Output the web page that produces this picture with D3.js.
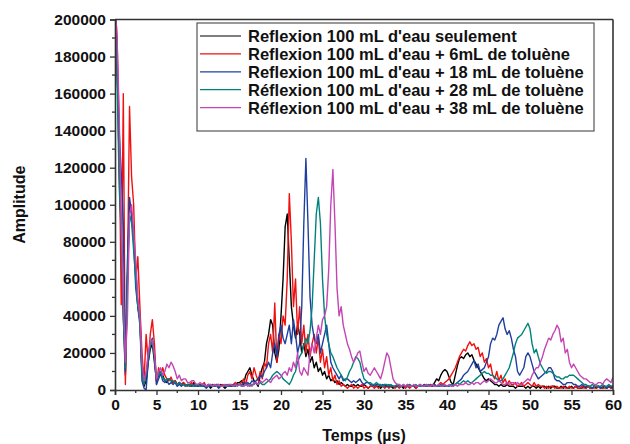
<!DOCTYPE html>
<html><head><meta charset="utf-8">
<script src="https://cdn.jsdelivr.net/npm/d3@7"></script>
<style>body{margin:0;background:#fff}svg{display:block}</style>
</head><body>
<svg id="c" width="630" height="444"></svg>
<script>
// Amplitudes in thousands, sampled every 0.25 µs from 0 to 60 µs
const seriesNames = [
  "Reflexion 100 mL d'eau seulement",
  "Reflexion 100 mL d'eau + 6mL de toluène",
  "Reflexion 100 mL d'eau + 18 mL de toluène",
  "Réflexion 100 mL d'eau + 28 mL de toluène",
  "Réflexion 100 mL d'eau + 38 mL de toluène"
];
const seriesColors = ["#000000", "#f01010", "#1f3f9f", "#00827c", "#c445b4"];
const timeStep = 0.25;
const black = [
210,180,120,85, 40,8,60,100, 95,80,65,45, 38,10,2,5, 15,22,25,15, 5,8,10,8, 5,4,6,5, 4,5,3,4, 3,4,2,3, 3,2,4,3,
2,3,2,3, 2,3,1,2, 3,2,2,3, 2,1,2,3, 2,3,2,4, 4,5,3,8, 10,12,8,5, 4,2,8,12, 15,25,30,38, 35,20,15,22,
40,60,88,95, 70,45,35,28, 35,30,20,25, 18,22,15,18, 12,15,10,12, 8,10,6,8, 5,6,4,5, 3,4,3,2, 3,2,2,3, 2,3,2,2,
3,2,1,2, 2,3,2,2, 1,2,3,2, 2,2,1,2, 3,2,2,1, 2,3,2,2, 2,1,2,3, 2,2,3,2, 3,2,4,6, 5,8,10,11,
10,7,4,3, 8,13,17,18, 17,19,20,18, 19,16,14,12, 10,8,6,5, 6,5,4,3, 3,2,3,2, 2,3,2,2, 2,1,2,2, 2,2,1,2,
1,2,2,1, 2,1,2,2, 1,2,1,2, 2,1,1,2, 1,2,1,1, 2,1,2,1, 1,1,2,1, 2,1,1,2, 1,2,1,1, 2,1,2,1, 2];
const red = [
210,190,140,46, 160,3,60,153, 115,100,60,72, 45,20,5,30, 15,30,38,25, 3,12,8,12, 8,6,5,7, 4,5,3,4, 3,4,3,2, 3,4,2,3,
3,2,3,4, 2,3,2,3, 2,3,3,2, 3,2,3,2, 2,3,4,3, 3,4,6,3, 8,10,6,12, 8,5,10,6, 15,12,25,30, 20,47,15,30,
25,40,35,60, 106,80,45,60, 30,45,25,35, 20,30,18,25, 30,20,28,15, 22,12,18,8, 12,5,8,3, 5,2,3,2, 1,2,3,1, 2,1,2,3,
1,2,1,2, 2,1,2,1, 2,2,1,2, 1,2,2,1, 2,1,2,2, 1,2,1,2, 2,1,2,2, 2,3,2,2, 3,2,3,2, 3,4,3,4,
5,6,8,10, 12,15,18,20, 22,21,24,26, 24,25,22,23, 18,20,15,17, 12,14,8,6, 10,5,8,4, 6,3,5,3, 3,4,2,3, 4,2,3,4,
3,2,4,2, 3,2,2,1, 2,1,2,2, 1,2,1,1, 2,1,1,2, 1,1,2,1, 1,2,1,1, 2,1,1,1, 1,2,1,1, 1,1,2,1, 1];
const blue = [
210,170,140,118, 90,10,70,104, 95,80,55,45, 35,5,1,0, 15,25,28,18, 3,6,9,5, 4,5,3,4, 3,4,2,3, 2,3,2,3, 2,2,3,2,
2,3,2,2, 1,2,2,3, 2,2,1,2, 2,3,2,2, 2,2,3,3, 3,2,4,3, 4,3,5,4, 5,6,8,7, 10,12,15,12, 20,25,18,30,
35,28,25,30, 35,25,38,30, 20,25,45,90, 125,90,50,35, 28,25,30,20, 25,30,35,25, 15,12,10,8, 6,8,5,6, 6,5,4,5, 4,5,6,4,
3,4,4,3, 3,2,3,3, 2,3,2,2, 3,2,2,2, 2,3,2,2, 2,2,3,2, 2,2,2,3, 2,3,2,2, 2,2,3,2, 2,3,2,2,
2,2,3,2, 3,4,5,6, 8,9,10,12, 14,16,12,14, 10,11,12,15, 18,25,28,27, 30,35,37,39, 33,30,32,28, 22,18,10,8, 10,12,18,20,
18,14,10,8, 6,7,8,9, 10,12,12,10, 6,5,5,4, 3,3,4,4, 4,3,3,2, 2,3,2,2, 2,2,1,2, 2,2,1,2, 2,1,2,2, 2];
const teal = [
210,170,110,85, 40,12,60,95, 90,75,60,45, 38,8,3,8, 18,24,26,18, 6,8,10,7, 5,6,6,5, 5,4,3,4, 3,3,2,3, 2,3,2,2,
3,2,2,3, 2,2,3,2, 2,3,2,2, 2,2,3,2, 3,2,2,3, 3,3,2,3, 3,2,3,3, 4,3,4,3, 3,4,5,6, 8,9,10,9,
8,6,5,4, 3,5,8,10, 15,18,20,24, 28,25,32,45, 70,95,104,90, 60,40,30,25, 20,18,15,12, 10,8,6,5, 7,10,12,15, 18,17,15,10,
6,5,4,4, 3,3,4,3, 3,2,3,3, 2,3,2,2, 3,2,2,3, 2,2,3,2, 2,3,2,2, 2,2,2,3, 2,3,2,2, 2,2,3,2,
2,2,3,3, 3,4,3,4, 5,4,5,4, 4,5,6,7, 8,9,10,9, 9,8,8,7, 6,5,5,6, 8,10,12,16, 20,25,28,29, 30,32,34,36,
33,25,20,22, 18,14,12,10, 9,10,10,9, 8,7,7,6, 6,7,7,8, 8,8,7,6, 5,4,3,3, 2,2,3,2, 2,2,2,3, 2,2,3,2, 2];
const purple = [
210,190,150,90, 50,15,40,95, 100,85,70,50, 40,15,5,10, 20,26,27,20, 6,10,12,8, 10,14,12,15, 13,10,6,8, 5,6,6,4, 4,5,5,3,
3,4,3,3, 2,3,3,2, 3,2,3,2, 2,3,2,3, 3,2,3,2, 3,2,2,3, 2,3,2,4, 4,3,5,4, 5,6,5,4, 6,7,8,6,
7,9,10,8, 12,10,15,12, 20,10,8,12, 10,8,20,25, 20,28,35,30, 38,40,45,65, 100,119,90,55, 40,45,35,30, 25,22,18,15, 17,20,21,15,
10,12,9,8, 10,12,10,8, 6,10,15,20, 18,12,6,4, 3,3,2,3, 2,3,2,2, 3,2,2,3, 2,2,3,2, 2,3,2,2, 3,2,2,3,
2,3,2,2, 3,2,3,3, 3,4,3,3, 4,3,4,4, 3,4,5,4, 5,6,5,4, 4,5,4,3, 3,4,3,4, 4,3,4,3, 3,4,5,6,
5,8,10,12, 12,15,18,22, 25,28,27,30, 32,35,33,26, 28,20,22,15, 12,14,12,10, 8,7,6,6, 5,4,4,3, 3,4,4,3, 5,6,5,4, 7];
const seriesValues = [black, red, blue, teal, purple];
const xTicks = [0,5,10,15,20,25,30,35,40,45,50,55,60];
const yTicks = [0,20000,40000,60000,80000,100000,120000,140000,160000,180000,200000];

const svg = d3.select("#c");
const L = 115, R = 613, T = 19.5, B = 390;
const x = d3.scaleLinear().domain([0, 60]).range([L, R]);
const y = d3.scaleLinear().domain([0, 200000]).range([B, T]);
const font = "'Liberation Sans', Arial, sans-serif";
const axisCol = "#333";

svg.append("defs").append("clipPath").attr("id","clip")
  .append("rect").attr("x", L).attr("y", T).attr("width", R-L).attr("height", B-T);

// data lines
const line = d3.line().x(d => x(d[0])).y(d => y(d[1] * 1000));
const g = svg.append("g").attr("clip-path","url(#clip)");
seriesValues.forEach((vals, i) => {
  const pts = vals.map((v, j) => [j * timeStep, v]);
  g.append("path").datum(pts).attr("d", line)
    .attr("fill","none").attr("stroke", seriesColors[i])
    .attr("stroke-width", 1.4).attr("stroke-linejoin","round");
});

// axes
const xAxis = d3.axisBottom(x).tickValues(xTicks).tickSize(5).tickPadding(4);
const yAxis = d3.axisLeft(y).tickValues(yTicks).tickSize(5).tickPadding(4).tickFormat(d3.format("d"));
const gx = svg.append("g").attr("transform", `translate(0,${B})`).call(xAxis);
const gy = svg.append("g").attr("transform", `translate(${L},0)`).call(yAxis);
// minor ticks
const xMinor = d3.range(2.5, 60, 5);
const yMinor = d3.range(10000, 200000, 20000);
svg.append("g").selectAll("line").data(xMinor).join("line")
  .attr("x1", d => x(d)).attr("x2", d => x(d)).attr("y1", B).attr("y2", B + 3)
  .attr("stroke", axisCol).attr("stroke-width", 1.3);
svg.append("g").selectAll("line").data(yMinor).join("line")
  .attr("y1", d => y(d)).attr("y2", d => y(d)).attr("x1", L).attr("x2", L - 3)
  .attr("stroke", axisCol).attr("stroke-width", 1.3);
[gx, gy].forEach(ax => {
  ax.select(".domain").attr("stroke", axisCol).attr("stroke-width", 1.6);
  ax.selectAll(".tick line").attr("stroke", axisCol).attr("stroke-width", 1.3);
  ax.selectAll(".tick text").attr("fill", "#111").style("font-family", font)
    .style("font-weight", "bold").style("font-size", "15.5px");
});
// frame top/right
svg.append("line").attr("x1", L).attr("x2", R).attr("y1", T).attr("y2", T).attr("stroke", axisCol).attr("stroke-width", 1.6);
svg.append("line").attr("x1", R).attr("x2", R).attr("y1", T).attr("y2", B).attr("stroke", axisCol).attr("stroke-width", 1.6);

// axis titles
svg.append("text").attr("x", (L + R) / 2).attr("y", 441).attr("text-anchor","middle")
  .style("font-family", font).style("font-weight","bold").style("font-size","16px").attr("fill","#111")
  .text("Temps (µs)");
svg.append("text").attr("transform", `translate(25,${(T + B) / 2}) rotate(-90)`).attr("text-anchor","middle")
  .style("font-family", font).style("font-weight","bold").style("font-size","16px").attr("fill","#111")
  .text("Amplitude");

// legend
const lg = svg.append("g");
lg.append("rect").attr("x", 197).attr("y", 23).attr("width", 397).attr("height", 108)
  .attr("fill","#fff").attr("stroke","#555").attr("stroke-width", 1.2);
seriesNames.forEach((name, i) => {
  const yy = 36 + i * 17.9;
  lg.append("line").attr("x1", 200).attr("x2", 241).attr("y1", yy).attr("y2", yy)
    .attr("stroke", seriesColors[i]).attr("stroke-width", 1.2);
  lg.append("text").attr("x", 248).attr("y", yy).attr("dy", "0.36em")
    .style("font-family", font).style("font-weight","bold").style("font-size","16.5px").attr("fill","#111")
    .text(name);
});
</script>
</body></html>
